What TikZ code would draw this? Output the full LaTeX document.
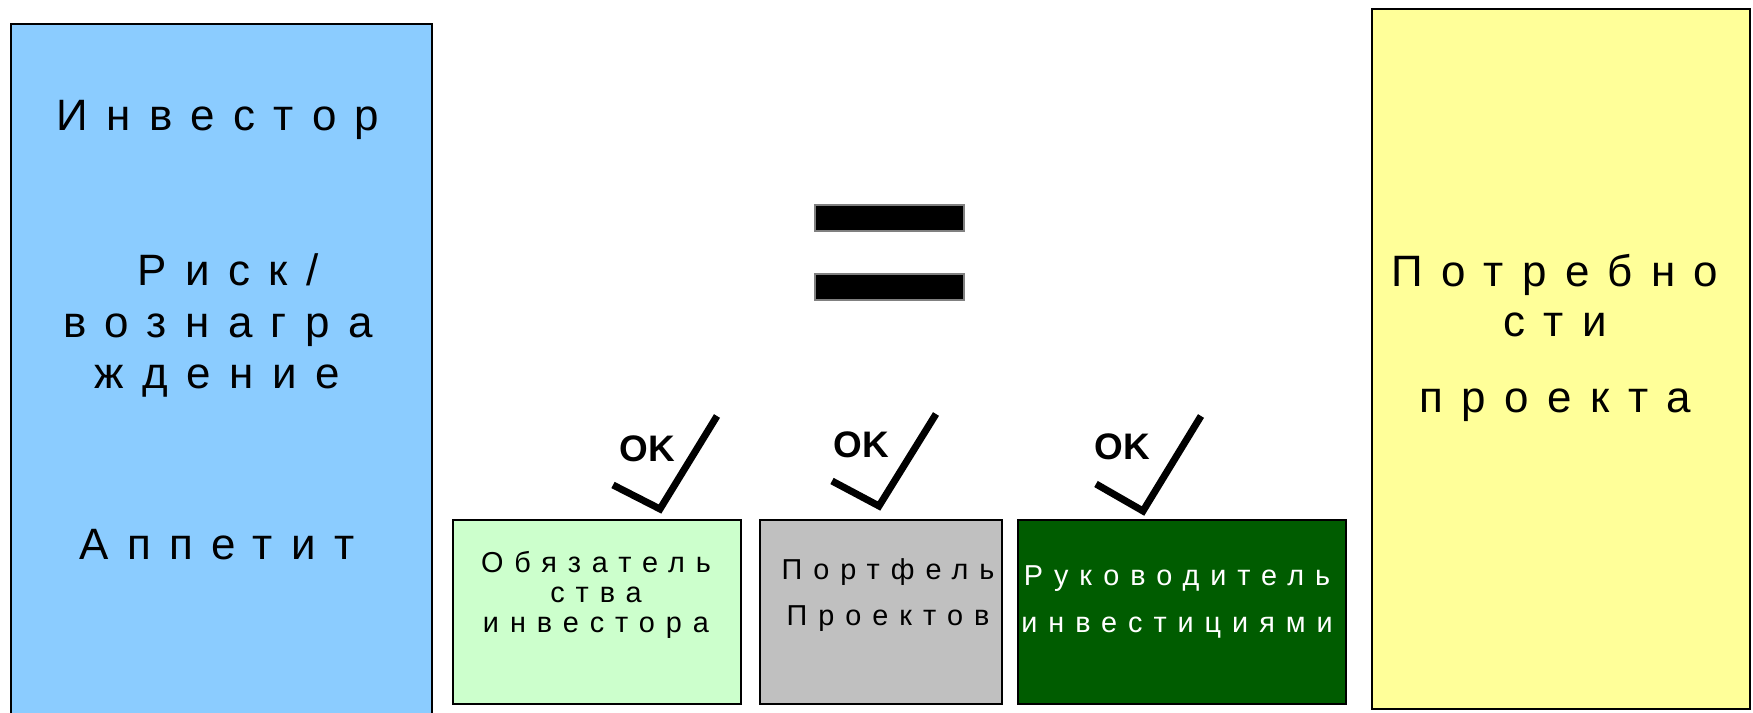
\documentclass[tikz,border=0pt]{standalone}
\usepackage{fontspec}
\usetikzlibrary{calc}
\setmainfont{Liberation Sans}
\newfontfamily\spacedfont{Liberation Sans}[LetterSpace=42]
\newfontfamily\narrowfont{Liberation Sans}[LetterSpace=38]
\definecolor{investorblue}{RGB}{139,204,255}
\definecolor{needyellow}{RGB}{255,255,153}
\definecolor{dutygreen}{RGB}{204,255,204}
\definecolor{portgray}{RGB}{192,192,192}
\definecolor{mgrgreen}{RGB}{0,92,0}
\tikzset{
  panel/.style={draw=black, line width=0.5pt},
  bigtxt/.style={anchor=base, inner sep=0pt, font=\spacedfont\fontsize{12.5}{15}\selectfont},
  smalltxt/.style={anchor=base, inner sep=0pt, font=\narrowfont\fontsize{8.2}{10}\selectfont},
  oktxt/.style={inner sep=0pt, font=\bfseries\fontsize{10.5}{12}\selectfont},
  tick/.style={line width=2pt, miter limit=10},
  bar/.style={fill=black, draw=gray, line width=0.3pt}
}

\begin{document}
\begin{tikzpicture}[x=0.1mm, y=-0.1mm]
\clip (0,0) rectangle (1753,713); % page size

% investor column
\draw[panel, fill=investorblue, line width=0.7pt] (11,24) rectangle (432,740);
\node[bigtxt] (inv)   at (218,131) {Инвестор};
\node[bigtxt] (risk)  at (228,286) {Риск/};
\node[bigtxt] (rew1)  at (218,338) {вознагра};
\node[bigtxt] (rew2)  at (217,389) {ждение};
\node[bigtxt] (appet) at (217,560) {Аппетит};

% project needs column
\draw[panel, fill=needyellow] (1372,9) rectangle (1750,709);
\node[bigtxt] (need1) at (1555,287) {Потребно};
\node[bigtxt] (need2) at (1555,337) {сти};
\node[bigtxt] (need3) at (1555,413) {проекта};

% equals sign
\draw[bar] (815,205) rectangle (964,231);
\draw[bar] (815,274) rectangle (964,300);

% three small boxes
\draw[panel, fill=dutygreen] (453,520) rectangle (741,704);
\node[smalltxt] (duty1) at (596,573) {Обязатель};
\node[smalltxt] (duty2) at (596,602) {ства};
\node[smalltxt] (duty3) at (596,633) {инвестора};

\draw[panel, fill=portgray] (760,520) rectangle (1002,704);
\node[smalltxt] (port1) at (888,580) {Портфель};
\node[smalltxt] (port2) at (888,626) {Проектов};

\draw[panel, fill=mgrgreen] (1018,520) rectangle (1346,704);
\node[smalltxt, text=white] (mgr1) at (1177,585) {Руководитель};
\node[smalltxt, text=white] (mgr2) at (1177,633) {инвестициями};

% ticks
\draw[tick] (613,485) -- ++(47,24) coordinate (v1) -- ++(57,-93);
\draw[tick] (832,481) -- ++(47,25) coordinate (v2) -- ++(57,-92);
\draw[tick] (1096,484) -- ++(47,27) coordinate (v3) -- ++(58,-95);
\node[oktxt] (ok1) at ($(v1)+(-13,-60)$) {OK};
\node[oktxt] (ok2) at ($(v2)+(-18,-61)$) {OK};
\node[oktxt] (ok3) at ($(v3)+(-21,-64)$) {OK};
\end{tikzpicture}
\end{document}
